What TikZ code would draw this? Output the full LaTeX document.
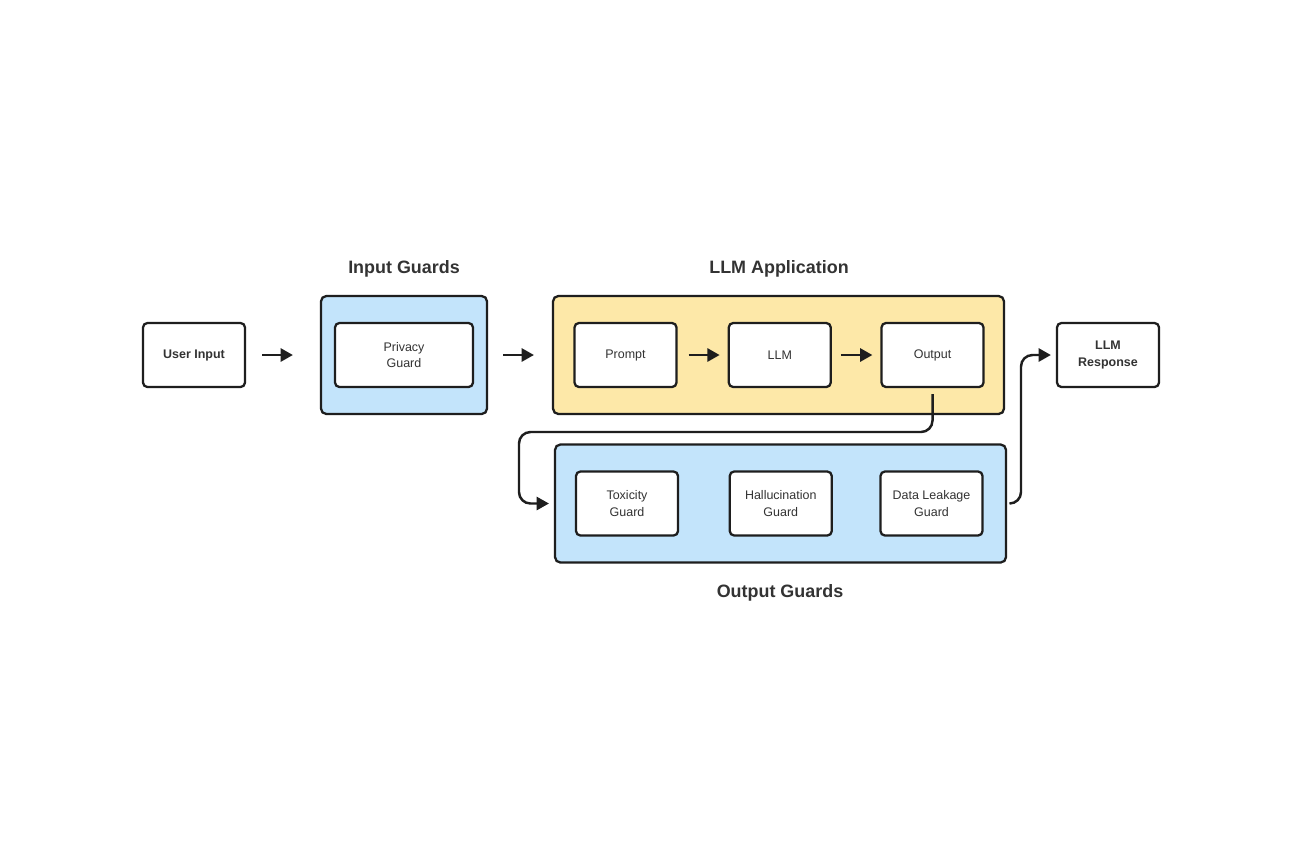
\documentclass[tikz,border=0pt]{standalone}
\usepackage{fontspec}
\setmainfont{Liberation Sans}
\usetikzlibrary{arrows.meta, positioning}

\definecolor{guardblue}{HTML}{C3E4FB}
\definecolor{appyellow}{HTML}{FDE8A8}
\definecolor{inkdark}{HTML}{1E1E1E}
\definecolor{textdark}{HTML}{333333}

\begin{document}
\begin{tikzpicture}[
        x=0.02cm, y=-0.02cm,
        block/.style={rectangle, draw=inkdark, line width=1.3pt, rounded corners=2.5pt, fill=white, minimum width=2.04cm, minimum height=1.28cm, align=center, text=textdark, font=\fontsize{7.1}{9.6}\selectfont},
        group/.style={rectangle, draw=inkdark, line width=1.3pt, rounded corners=3pt, minimum height=2.36cm},
        title/.style={font=\fontsize{10.2}{12}\selectfont\bfseries, text=textdark},
        arrow/.style={-{Triangle[length=7pt, width=7.5pt]}, line width=1.4pt, draw=inkdark},
        path/.style={arrow, rounded corners=6.5pt}
    ]
        \useasboundingbox[fill=white] (0,0) rectangle (1300,860);

        % Gruppen
        \node (inguard) [group, fill=guardblue, minimum width=3.32cm] at (404,355) {};
        \node (llmapp) [group, fill=appyellow, minimum width=9.02cm] at (778.5,355) {};
        \node (outguard) [group, fill=guardblue, minimum width=9.02cm] at (780.5,503.5) {};

        \node (inguardtitle) [title] at (404,269) {Input Guards};
        \node (llmapptitle) [title] at (779,269) {LLM Application};
        \node (outguardtitle) [title] at (780,593) {Output Guards};

        % Blöcke
        \node (user) [block, font=\fontsize{7.1}{9.6}\selectfont\bfseries] at (194,355) {User Input};
        \node (privacy) [block, minimum width=2.76cm] at (404,355) {Privacy\\Guard};
        \node (prompt) [block] at (625.5,355) {Prompt};
        \node (llm) [block, right=1cm of prompt] {LLM};
        \node (output) [block, right=0.97cm of llm] {Output};
        \node (toxicity) [block] at (627,503.5) {Toxicity\\Guard};
        \node (halluc) [block, right=0.99cm of toxicity] {Hallucination\\Guard};
        \node (leakage) [block, right=0.93cm of halluc] {Data Leakage\\Guard};
        \node (response) [block, font=\fontsize{7.1}{9.6}\selectfont\bfseries] at (1108,355) {LLM\\Response};

        \coordinate (dropdown) at (519,432);
        \coordinate (riser) at (1021,432);

        % Pfeile
        \draw [arrow, shorten <=0.32cm, shorten >=0.54cm] (user) -- (inguard);
        \draw [arrow, shorten <=0.3cm, shorten >=0.36cm] (inguard) -- (llmapp);
        \draw [arrow, shorten <=0.22cm, shorten >=0.16cm] (prompt) -- (llm);
        \draw [arrow, shorten <=0.18cm, shorten >=0.16cm] (llm) -- (output);
        \draw [path, shorten >=0.1cm] ([yshift=-0.12cm]output.south) |- (dropdown) |- (outguard.west);
        \draw [path, shorten >=0.1cm] ([xshift=0.08cm]outguard.east) -| (riser) |- (response.west);
    \end{tikzpicture}
\end{document}
